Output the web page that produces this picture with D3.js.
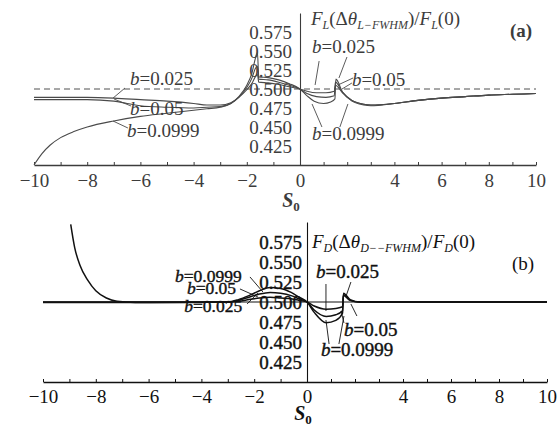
<!DOCTYPE html>
<html>
<head>
<meta charset="utf-8">
<script src="https://cdn.jsdelivr.net/npm/d3@7/dist/d3.min.js"></script>
<style>
  body { margin: 0; background: #fff; }
  svg text { font-family: "Liberation Serif", "DejaVu Serif", serif; }
</style>
</head>
<body>
<svg id="chart" width="558" height="432"></svg>
<script>
// ---- data ----
const xTickValues = [-10, -8, -6, -4, -2, 0, 4, 6, 8, 10];
const yTickValues = [0.425, 0.45, 0.475, 0.5, 0.525, 0.55, 0.575];

// panel (a): F_L(dθ_L-FWHM)/F_L(0) vs S0
const a_b025 = [[-10,0.489],[-9,0.489],[-8,0.489],[-7,0.488],[-6,0.486],[-5,0.484],[-4,0.481],[-3.5,0.479],[-3,0.479],[-2.6,0.482],[-2.3,0.489],[-2.0,0.499],[-1.8,0.508],[-1.68,0.516],[-1.6,0.519],[-1.55,0.509],[-1.2,0.508],[-0.8,0.506],[-0.4,0.503],[0,0.5],[0.3,0.497],[0.7,0.495],[1.1,0.495],[1.45,0.497],[1.5,0.505],[1.8,0.495],[2.2,0.485],[2.7,0.480],[3,0.479],[4,0.481],[5,0.485],[6,0.488],[7,0.490],[8,0.492],[9,0.493],[10,0.494]];
const a_b05 = [[-10,0.486],[-9,0.486],[-8,0.486],[-7,0.484],[-6.5,0.481],[-6,0.478],[-5,0.476],[-4,0.475],[-3.5,0.476],[-3,0.477],[-2.6,0.481],[-2.3,0.489],[-2.0,0.502],[-1.8,0.515],[-1.68,0.527],[-1.6,0.530],[-1.55,0.513],[-1.2,0.512],[-0.8,0.509],[-0.4,0.505],[0,0.5],[0.3,0.494],[0.7,0.490],[1.1,0.489],[1.45,0.491],[1.5,0.509],[1.8,0.496],[2.2,0.485],[2.7,0.480],[3,0.479],[4,0.481],[5,0.485],[6,0.488],[7,0.490],[8,0.492],[9,0.493],[10,0.494]];
const a_b0999 = [[-10,0.400],[-9.7,0.415],[-9.4,0.426],[-9,0.436],[-8.5,0.444],[-8,0.450],[-7,0.458],[-6,0.464],[-5,0.468],[-4,0.472],[-3.5,0.474],[-3,0.476],[-2.6,0.481],[-2.3,0.490],[-2.0,0.505],[-1.8,0.522],[-1.68,0.540],[-1.6,0.548],[-1.55,0.516],[-1.2,0.515],[-0.8,0.512],[-0.4,0.507],[0,0.5],[0.3,0.491],[0.6,0.484],[1.0,0.481],[1.3,0.483],[1.48,0.487],[1.52,0.513],[1.8,0.496],[2.2,0.484],[2.7,0.479],[3,0.478],[4,0.481],[5,0.485],[6,0.488],[7,0.490],[8,0.492],[9,0.493],[10,0.494]];

// panel (b): F_D(dθ_D-FWHM)/F_D(0) vs S0
const b_b025 = [[-10,0.5],[-6,0.5],[-3,0.5],[-2.6,0.501],[-2.2,0.503],[-1.8,0.505],[-1.4,0.506],[-1.0,0.505],[-0.6,0.504],[-0.3,0.502],[0,0.5],[0.3,0.495],[0.8,0.491],[1.2,0.492],[1.48,0.494],[1.52,0.508],[1.8,0.502],[2.2,0.5],[6,0.5],[10,0.5]];
const b_b05 = [[-10,0.4995],[-6,0.4995],[-3,0.5],[-2.6,0.502],[-2.2,0.506],[-1.8,0.510],[-1.4,0.512],[-1.0,0.511],[-0.6,0.508],[-0.3,0.504],[0,0.5],[0.3,0.490],[0.8,0.482],[1.2,0.484],[1.48,0.489],[1.52,0.509],[1.8,0.502],[2.2,0.5],[6,0.5],[10,0.5]];
const b_b0999 = [[-8.95,0.597],[-8.8,0.568],[-8.6,0.546],[-8.3,0.527],[-8,0.514],[-7.6,0.505],[-7.2,0.501],[-6.5,0.4995],[-5,0.4993],[-4,0.4995],[-3,0.5],[-2.6,0.503],[-2.2,0.508],[-1.8,0.514],[-1.4,0.518],[-1.0,0.517],[-0.6,0.512],[-0.3,0.506],[0,0.5],[0.3,0.487],[0.8,0.474],[1.2,0.477],[1.48,0.486],[1.52,0.511],[1.8,0.503],[2.2,0.5],[6,0.5],[10,0.5]];

// curve labels: [text value, label S, label v, leaders [[S1,v1,S2,v2], ...], font size]
const a_labels = [
  ["0.025", -6.39, 0.5053, [[-7.03,0.488,-6.58,0.5013]], 19],
  ["0.05", -6.39, 0.4658, [[-6.35,0.4776,-6.99,0.4868]], 19],
  ["0.0999", -6.5, 0.4368, [[-6.47,0.4487,-7.03,0.4579]], 19],
  ["0.025", 0.51, 0.5474, [[0.81,0.5368,0.64,0.5053],[1.99,0.5421,1.65,0.5145]], 19],
  ["0.05", 2.2, 0.504, [[2.25,0.5145,1.61,0.5053],[2.2,0.5079,1.78,0.5]], 19],
  ["0.0999", 0.51, 0.4329, [[0.93,0.45,0.51,0.4803],[1.69,0.45,2.03,0.4803]], 19]
];
const b_labels = [
  ["0.0999", -5.0, 0.5245, [[-2.16,0.5313,-1.67,0.5125]], 17.5],
  ["0.05", -4.55, 0.5095, [[-2.54,0.5163,-1.86,0.5063]], 17.5],
  ["0.025", -4.65, 0.4880, [[-2.27,0.4975,-1.86,0.5113]], 17.5],
  ["0.025", 0.375, 0.53, [[0.79,0.5225,0.79,0.4888],[1.83,0.525,1.63,0.5075]], 19],
  ["0.05", 1.54, 0.4575, [[1.54,0.4738,1.42,0.4888],[2.08,0.4825,1.83,0.4975]], 19],
  ["0.0999", 0.58, 0.4325, [[0.92,0.4475,0.79,0.4775],[1.33,0.4475,1.54,0.4825]], 19]
];

const svg = d3.select("#chart");
const serif = "'Liberation Serif', 'DejaVu Serif', serif";

function drawPanel(opt) {
  const x = d3.scaleLinear().domain([-10, 0, 10]).range(opt.xr);
  const y = d3.scaleLinear().domain([0.4, 0.6]).range(opt.yr);
  const g = svg.append("g").attr("fill", opt.ink).attr("font-family", serif);

  // reference line at 0.5
  g.append("line")
    .attr("x1", x(-10)).attr("x2", x(10))
    .attr("y1", y(0.5)).attr("y2", y(0.5))
    .attr("stroke", opt.ink).attr("stroke-width", opt.dash ? 0.9 : 1.2)
    .attr("stroke-dasharray", opt.dash ? "6,4" : null);

  // x axis
  const xAxis = d3.axisBottom(x)
    .tickValues(d3.range(-10, 11, 1))
    .tickSizeInner(-3).tickSizeOuter(0).tickPadding(opt.xpad)
    .tickFormat(d => xTickValues.includes(d) ? (d < 0 ? "\u2212" + (-d) : d) : "");
  const xg = g.append("g").attr("transform", `translate(0,${opt.yr[0]})`).call(xAxis)
    .attr("font-family", serif).attr("font-size", 19);
  xg.select(".domain").attr("stroke", opt.ink).attr("stroke-width", 1.3);
  xg.selectAll(".tick line").attr("stroke", opt.ink);
  xg.selectAll("text").attr("fill", opt.ink);

  // y axis through S0 = 0
  const yAxis = d3.axisLeft(y).tickValues(yTickValues)
    .tickSize(0).tickPadding(opt.ypad).tickFormat(d3.format(".3f"));
  const yg = g.append("g").attr("transform", `translate(${x(0)},0)`).call(yAxis)
    .attr("font-family", serif).attr("font-size", 19);
  yg.select(".domain").attr("stroke", opt.ink).attr("stroke-width", 1.1);
  yg.selectAll("text").attr("fill", opt.ink)
    .attr("stroke", opt.bold ? opt.ink : null).attr("stroke-width", opt.bold ? 0.4 : null);

  // curves
  const line = d3.line().x(d => x(d[0])).y(d => y(d[1])).curve(d3.curveMonotoneX);
  g.selectAll(".curve").data(opt.series).enter().append("path")
    .attr("class", "curve")
    .attr("d", line)
    .attr("fill", "none")
    .attr("stroke", opt.curveInk)
    .attr("stroke-width", opt.lw);

  // labels and leaders
  opt.labels.forEach(l => {
    l[3].forEach(s => {
      g.append("line")
        .attr("x1", x(s[0])).attr("y1", y(s[1]))
        .attr("x2", x(s[2])).attr("y2", y(s[3]))
        .attr("stroke", opt.curveInk).attr("stroke-width", 0.9);
    });
    const t = g.append("text").attr("x", x(l[1])).attr("y", y(l[2])).attr("font-size", l[4])
      .attr("stroke", opt.bold ? opt.ink : null).attr("stroke-width", opt.bold ? 0.4 : null);
    t.append("tspan").attr("font-style", "italic").text("b");
    t.append("tspan").text("=" + l[0]);
  });

  // y label
  const tt = g.append("text").attr("x", opt.title[0]).attr("y", opt.title[1]).attr("font-size", 19);
  tt.append("tspan").attr("font-style", "italic").text("F");
  tt.append("tspan").attr("font-style", "italic").attr("font-size", 12).attr("dy", 4).text(opt.sub);
  tt.append("tspan").attr("dy", -4).text("(\u0394");
  tt.append("tspan").attr("font-style", "italic").text("\u03b8");
  tt.append("tspan").attr("font-style", "italic").attr("font-size", 12).attr("dy", 4).text(opt.sub + opt.fw);
  tt.append("tspan").attr("dy", -4).text(")/");
  tt.append("tspan").attr("font-style", "italic").text("F");
  tt.append("tspan").attr("font-style", "italic").attr("font-size", 12).attr("dy", 4).text(opt.sub);
  tt.append("tspan").attr("dy", -4).text("(0)");

  // panel tag
  g.append("text").attr("x", opt.tag[0]).attr("y", opt.tag[1])
    .attr("font-size", 19).attr("font-weight", opt.tagBold ? "bold" : null).text(opt.tag[2]);

  // x label S0
  const sx = g.append("text").attr("x", opt.s0[0]).attr("y", opt.s0[1])
    .attr("font-size", 20).attr("font-weight", "bold").attr("font-style", "italic")
    .attr("text-anchor", "middle");
  sx.append("tspan").text("S");
  sx.append("tspan").attr("font-size", 13).attr("dy", 4).attr("font-style", "normal").text("0");
}

drawPanel({
  xr: [34, 300, 536], yr: [165, 13], ink: "#3c3c3c", curveInk: "#4a4a4a", lw: 1.1, dash: true, bold: false,
  xpad: 9, ypad: 8,
  series: [a_b025, a_b05, a_b0999], labels: a_labels,
  title: [311, 25], sub: "L", fw: "\u2212FWHM",
  tag: [510, 37, "(a)"], tagBold: true, s0: [291, 207]
});

drawPanel({
  xr: [43, 307, 547], yr: [382, 222], ink: "#111", curveInk: "#111", lw: 1.5, dash: false, bold: true,
  xpad: 8, ypad: 5,
  series: [b_b025, b_b05, b_b0999], labels: b_labels,
  title: [312, 248], sub: "D", fw: "\u2212\u2212FWHM",
  tag: [512, 270, "(b)"], tagBold: false, s0: [303, 420]
});
</script>
</body>
</html>
